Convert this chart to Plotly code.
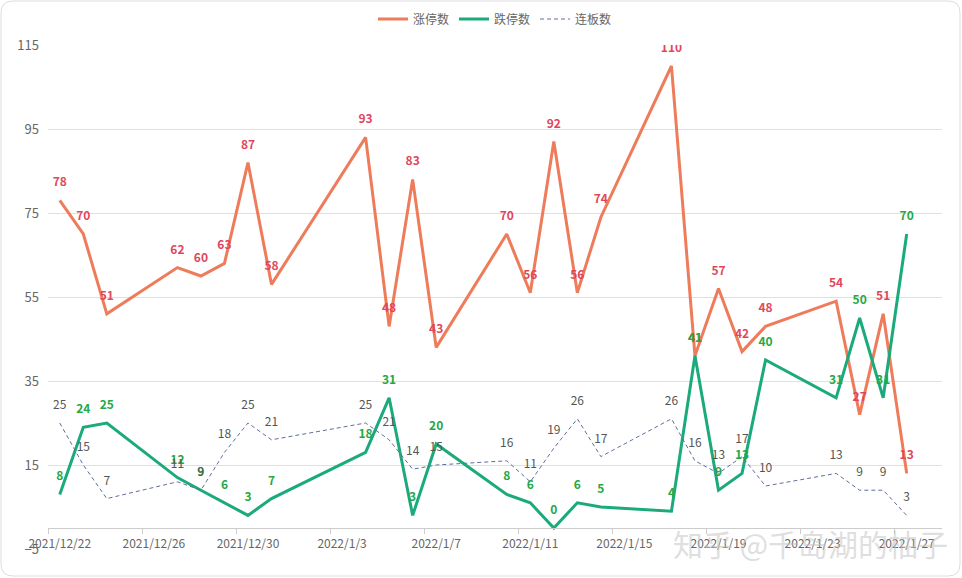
import plotly.graph_objects as go

dates = ["2021-12-22", "2021-12-23", "2021-12-24", "2021-12-27", "2021-12-28", "2021-12-29",
         "2021-12-30", "2021-12-31", "2022-01-04", "2022-01-05", "2022-01-06", "2022-01-07",
         "2022-01-10", "2022-01-11", "2022-01-12", "2022-01-13", "2022-01-14", "2022-01-17",
         "2022-01-18", "2022-01-19", "2022-01-20", "2022-01-21", "2022-01-24", "2022-01-25",
         "2022-01-26", "2022-01-27"]
limit_up = [78, 70, 51, 62, 60, 63, 87, 58, 93, 48, 83, 43, 70, 56, 92, 56, 74, 110, 41, 57, 42, 48, 54, 27, 51, 13]
limit_down = [8, 24, 25, 12, 9, 6, 3, 7, 18, 31, 3, 20, 8, 6, 0, 6, 5, 4, 41, 9, 13, 40, 31, 50, 31, 70]
consecutive = [25, 15, 7, 11, 9, 18, 25, 21, 25, 21, 14, 15, 16, 11, 19, 26, 17, 26, 16, 13, 17, 10, 13, 9, 9, 3]

tick_dates = ["2021-12-22", "2021-12-26", "2021-12-30", "2022-01-03", "2022-01-07",
              "2022-01-11", "2022-01-15", "2022-01-19", "2022-01-23", "2022-01-27"]
tick_labels = ["2021/12/22", "2021/12/26", "2021/12/30", "2022/1/3", "2022/1/7",
               "2022/1/11", "2022/1/15", "2022/1/19", "2022/1/23", "2022/1/27"]

FONT = "Noto Sans CJK SC"
ORANGE = "#EE7C5B"
GREEN = "#1AAA7B"
DASH = "#5F6F9C"

series = [
    ("涨停数", limit_up, dict(color=ORANGE, width=3), dict(color="#E0475C", weight="bold")),
    ("跌停数", limit_down, dict(color=GREEN, width=3), dict(color="#25A845", weight="bold")),
    ("连板数", consecutive, dict(color=DASH, width=1, dash="4px,3px"), dict(color="#555555")),
]

fig = go.Figure()
for name, vals, line, tf in series:
    fig.add_trace(go.Scatter(
        x=dates, y=vals, name=name, mode="lines+markers+text", showlegend=False,
        line=line, marker=dict(size=16, opacity=0, color=line["color"]),
        text=[str(v) for v in vals], textposition="top center",
        textfont=dict(size=12, family=FONT, **tf),
    ))
for name, vals, line, tf in series:
    fig.add_trace(go.Scatter(x=[None], y=[None], name=name, mode="lines",
                             line=line, showlegend=True))

# plot area in pixels
L, R, T, B = 48, 942, 45, 549
W, H = R - L, B - T


def px(x):
    return (x - L) / W


def py(y):
    return (B - y) / H


x0, y0, x1, y1, r = 1, 1, 960, 576, 12
path = (f"M {px(x0 + r)} {py(y0)} L {px(x1 - r)} {py(y0)} Q {px(x1)} {py(y0)} {px(x1)} {py(y0 + r)} "
        f"L {px(x1)} {py(y1 - r)} Q {px(x1)} {py(y1)} {px(x1 - r)} {py(y1)} "
        f"L {px(x0 + r)} {py(y1)} Q {px(x0)} {py(y1)} {px(x0)} {py(y1 - r)} "
        f"L {px(x0)} {py(y0 + r)} Q {px(x0)} {py(y0)} {px(x0 + r)} {py(y0)} Z")

fig.update_layout(
    width=962, height=578,
    margin=dict(l=L, r=962 - R, t=T, b=578 - B, autoexpand=False),
    paper_bgcolor="white", plot_bgcolor="white",
    font=dict(family=FONT, size=12, color="#666666"),
    showlegend=True,
    legend=dict(orientation="h", x=0.5, xanchor="center", yref="container",
                y=1 - 19 / 578, yanchor="middle",
                font=dict(size=12, color="#666666", family=FONT), itemwidth=30,
                bgcolor="rgba(0,0,0,0)"),
    shapes=[dict(type="path", xref="paper", yref="paper", path=path,
                 line=dict(color="#DDDDDD", width=1), layer="below")],
    annotations=[dict(text="知乎 @千岛湖的柚子", xref="paper", yref="paper",
                      x=px(810), y=py(543), xanchor="center", yanchor="middle",
                      showarrow=False,
                      font=dict(size=30, color="rgba(195,195,195,0.55)", family=FONT))],
)
fig.update_xaxes(
    type="date", range=["2021-12-21 12:00", "2022-01-28 12:00"], automargin=False,
    tickvals=tick_dates, ticktext=tick_labels, ticks="", ticklabelstandoff=5,
    tickfont=dict(size=12, color="#666666", family=FONT),
    showgrid=False, showline=True, linecolor="#CCCCCC", linewidth=1,
    anchor="free", position=5 / 120,
    minor=dict(tick0="2021-12-21 12:00", dtick=4 * 86400000, ticks="outside",
               ticklen=5, tickcolor="#CCCCCC", showgrid=False),
    zeroline=False,
)
fig.update_yaxes(
    range=[-5, 115], tick0=-5, dtick=20, showgrid=True, gridcolor="#E0E0E0",
    showline=False, zeroline=False, ticklabelstandoff=8, automargin=False,
    tickfont=dict(size=13, color="#666666", family=FONT),
)

fig.write_html("out.html", config={"displayModeBar": False},
               post_script="document.body.style.margin='0';document.body.style.overflow='hidden';")
